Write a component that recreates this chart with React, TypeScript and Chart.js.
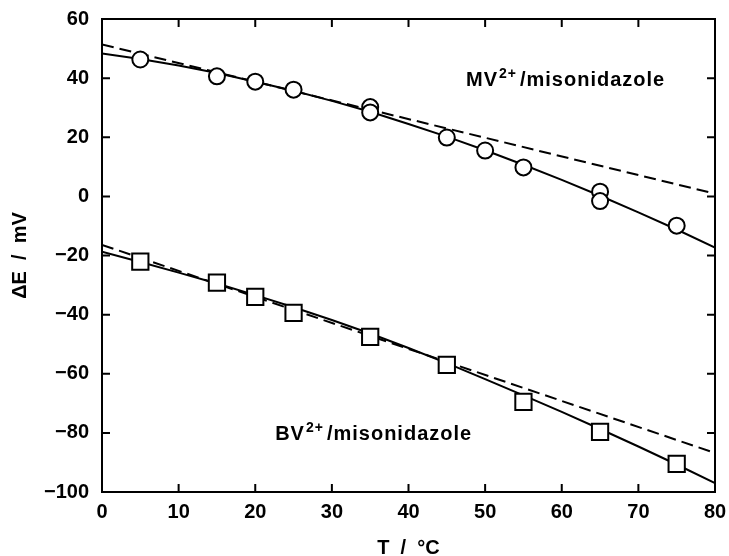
import React, { useEffect, useRef } from "react";
import { Chart, registerables } from "chart.js";

Chart.register(...registerables);

// Measured points
const mvT = [5, 15, 20, 25, 35, 35, 45, 50, 55, 65, 65, 75];
const mvE = [46.3, 40.6, 38.8, 36.1, 30.2, 28.4, 19.9, 15.5, 9.8, 1.6, -1.6, -9.9];
const bvT = [5, 15, 20, 25, 35, 45, 55, 65, 75];
const bvE = [-22.1, -29.2, -34.0, -39.4, -47.5, -57.0, -69.5, -79.7, -90.5];

// Solid fitted curves
const curveT = [0, 5, 10, 15, 20, 25, 30, 35, 40, 45, 50, 55, 60, 65, 70, 75, 80];
const mvCurve = [48.3, 46.5, 44.3, 41.7, 38.8, 35.7, 32.3, 28.6, 24.5, 20.2, 15.6, 10.7, 5.6, 0.2, -5.4, -11.2, -17.3];
const bvCurve = [-18.7, -22.2, -25.8, -29.5, -33.4, -37.5, -41.8, -46.4, -51.3, -56.4, -61.8, -67.3, -72.9, -78.7, -84.6, -90.7, -97.0];

// Dashed linear lines
const dashT = [0, 80];
const mvDash = [51.4, 0.9];
const bvDash = [-16.4, -86.8];

// Axis ranges / ticks
const xMin = 0, xMax = 80, xStep = 10;
const yMin = -100, yMax = 60, yStep = 20;

// Annotation labels (data coordinates)
const mvLabel = { x: 47.5, y: 37.3, a: "MV", sup: "2+", b: "/misonidazole" };
const bvLabel = { x: 22.6, y: -82.4, a: "BV", sup: "2+", b: "/misonidazole" };

const FONT = "'Liberation Sans', Arial, Helvetica, sans-serif";

const pts = (xs: number[], ys: number[]) => xs.map((x, i) => ({ x, y: ys[i] }));

export default function App() {
  const ref = useRef<HTMLCanvasElement>(null);

  useEffect(() => {
    document.body.style.margin = "0";
    const canvas = ref.current!;

    const framePlugin = {
      id: "frame",
      afterDatasetsDraw(chart: any) {
        const { ctx, chartArea: ca, scales } = chart;
        const xs = scales.x, ys = scales.y;
        ctx.save();
        ctx.strokeStyle = "#000";
        ctx.lineWidth = 2;
        ctx.strokeRect(ca.left, ca.top, ca.right - ca.left, ca.bottom - ca.top);
        const L = 8;
        ctx.beginPath();
        xs.ticks.forEach((t: any) => {
          const p = xs.getPixelForValue(t.value);
          ctx.moveTo(p, ca.bottom);
          ctx.lineTo(p, ca.bottom - L);
          ctx.moveTo(p, ca.top);
          ctx.lineTo(p, ca.top + L);
        });
        ys.ticks.forEach((t: any) => {
          const p = ys.getPixelForValue(t.value);
          ctx.moveTo(ca.left, p);
          ctx.lineTo(ca.left + L, p);
          ctx.moveTo(ca.right, p);
          ctx.lineTo(ca.right - L, p);
        });
        ctx.stroke();

        // annotation labels
        const drawLabel = (lab: typeof mvLabel) => {
          let px = xs.getPixelForValue(lab.x);
          const py = ys.getPixelForValue(lab.y);
          ctx.fillStyle = "#000";
          ctx.textBaseline = "alphabetic";
          ctx.textAlign = "left";
          (ctx as any).letterSpacing = "1px";
          ctx.font = `bold 20px ${FONT}`;
          ctx.fillText(lab.a, px, py);
          px += ctx.measureText(lab.a).width;
          ctx.font = `bold 14px ${FONT}`;
          ctx.fillText(lab.sup, px + 1, py - 8);
          px += ctx.measureText(lab.sup).width + 4;
          ctx.font = `bold 20px ${FONT}`;
          ctx.fillText(lab.b, px, py);
          (ctx as any).letterSpacing = "0px";
        };
        drawLabel(mvLabel);
        drawLabel(bvLabel);
        ctx.restore();
      },
    };

    const lineDs = (data: any, dash: number[]) => ({
      data,
      showLine: true,
      pointRadius: 0,
      pointHoverRadius: 0,
      borderColor: "#000",
      borderWidth: 2,
      borderDash: dash,
      tension: 0,
      fill: false,
    });

    const chart = new Chart(canvas, {
      type: "scatter",
      data: {
        datasets: [
          {
            data: pts(mvT, mvE),
            pointStyle: "circle",
            pointRadius: 8,
            pointHoverRadius: 8,
            borderColor: "#000",
            backgroundColor: "#fff",
            borderWidth: 2,
            showLine: false,
          } as any,
          {
            data: pts(bvT, bvE),
            pointStyle: "rect",
            pointRadius: 11.5,
            pointHoverRadius: 11.5,
            borderColor: "#000",
            backgroundColor: "#fff",
            borderWidth: 2,
            showLine: false,
          } as any,
          lineDs(pts(curveT, mvCurve), []),
          lineDs(pts(curveT, bvCurve), []),
          lineDs(pts(dashT, mvDash), [12, 6]),
          lineDs(pts(dashT, bvDash), [12, 6]),
        ],
      },
      options: {
        responsive: false,
        animation: false,
        devicePixelRatio: 1,
        layout: { autoPadding: false, padding: { top: 19, right: 14, left: 0, bottom: 0 } },
        plugins: { legend: { display: false }, tooltip: { enabled: false } },
        events: [],
        scales: {
          x: {
            type: "linear",
            min: xMin,
            max: xMax,
            ticks: {
              stepSize: xStep,
              color: "#000",
              padding: 2,
              maxRotation: 0,
              font: { family: FONT, size: 20, weight: "bold", lineHeight: 1.8 },
            },
            grid: { display: false, drawTicks: false },
            border: { display: false },
            title: {
              display: true,
              text: "T  /  °C",
              color: "#000",
              padding: { top: 0, bottom: -2 },
              font: { family: FONT, size: 20, weight: "bold", lineHeight: 1 },
            },
            afterFit: (s: any) => {
              s.height = 64;
            },
          },
          y: {
            type: "linear",
            min: yMin,
            max: yMax,
            ticks: {
              stepSize: yStep,
              color: "#000",
              padding: 13,
              font: { family: FONT, size: 20, weight: "bold", lineHeight: 0.4 },
              callback: (v: any) => (v < 0 ? "\u2212" + Math.abs(v) : String(v)),
            },
            grid: { display: false, drawTicks: false },
            border: { display: false },
            title: {
              display: true,
              text: "ΔE  /  mV",
              color: "#000",
              padding: { top: 10, bottom: 0 },
              font: { family: FONT, size: 20, weight: "bold", lineHeight: 1 },
            },
            afterFit: (s: any) => {
              s.width = 102;
            },
          },
        },
      } as any,
      plugins: [framePlugin],
    });

    return () => chart.destroy();
  }, []);

  return (
    <div style={{ width: 729, height: 556 }}>
      <canvas ref={ref} width={729} height={556} style={{ display: "block" }} />
    </div>
  );
}
